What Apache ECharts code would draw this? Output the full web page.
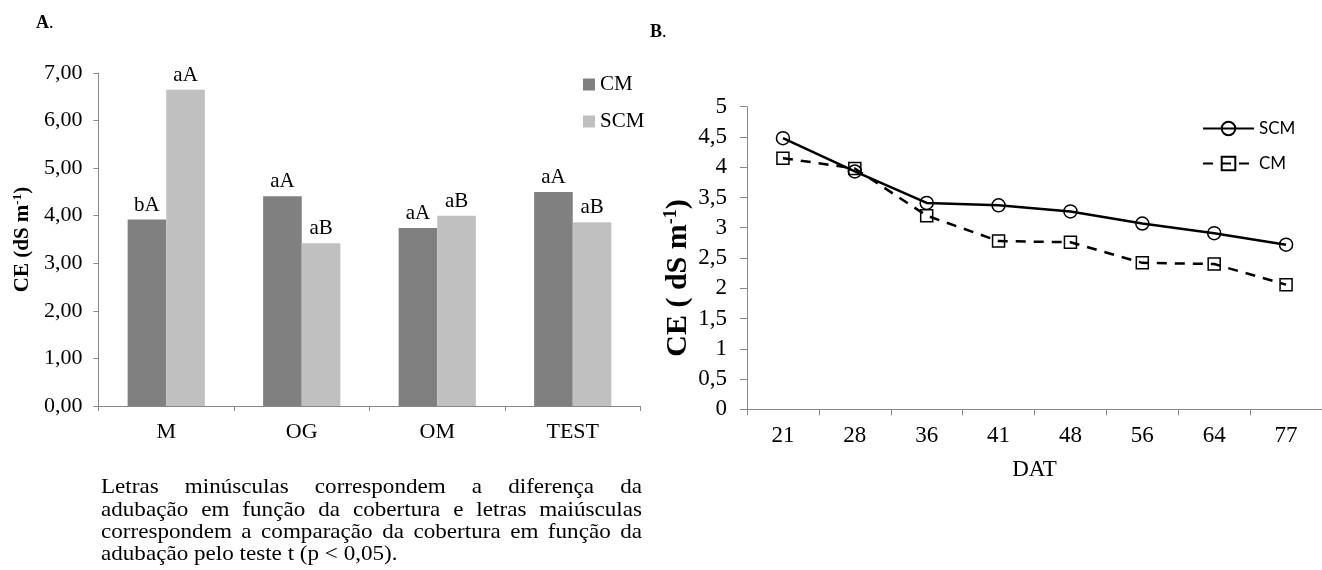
<!DOCTYPE html>
<html><head><meta charset="utf-8">
<script src="https://cdn.jsdelivr.net/npm/echarts@6/dist/echarts.min.js"></script>
<style>html,body{margin:0;padding:0;background:#fff}#c{width:1322px;height:570px}</style>
</head><body><div id="c"></div>
<script>
// ---- data ----
const barCategories = ['M', 'OG', 'OM', 'TEST'];
const barCM = [3.92, 4.41, 3.74, 4.50];
const barSCM = [6.65, 3.42, 4.00, 3.86];
const lettersCM = ['bA', 'aA', 'aA', 'aA'];
const lettersSCM = ['aA', 'aB', 'aB', 'aB'];

const datCategories = ['21', '28', '36', '41', '48', '56', '64', '77'];
const lineSCM = [4.48, 3.93, 3.41, 3.37, 3.27, 3.07, 2.91, 2.72];
const lineCM = [4.15, 3.98, 3.20, 2.78, 2.76, 2.42, 2.40, 2.06];

const captionLines = [
  'Letras minúsculas correspondem a diferença da',
  'adubação em função da cobertura e letras maiúsculas',
  'correspondem a comparação da cobertura em função da',
  'adubação pelo teste t (p < 0,05).'
];

// ---- layout / styles ----
const SERIF = '"Liberation Serif", "Times New Roman", serif';
const AXIS = '#888888';

const graphics = [];
graphics.push({type: 'text', x: 36, y: 23, style: {text: '{b|A}{n|.}', rich: {b: {fontSize: 18, fontWeight: 'bold', fontFamily: SERIF, fill: '#000'}, n: {fontSize: 18, fontFamily: SERIF, fill: '#000'}}, verticalAlign: 'middle', fill: '#000'}});
graphics.push({type: 'text', x: 650, y: 32, style: {text: '{b|B}{n|.}', rich: {b: {fontSize: 18, fontWeight: 'bold', fontFamily: SERIF, fill: '#000'}, n: {fontSize: 18, fontFamily: SERIF, fill: '#000'}}, verticalAlign: 'middle', fill: '#000'}});

// caption, justified like the original
const capFont = 21, capScale = 1.1, capLeft = 101, capRight = 642;
const capY = [487, 510, 532, 554];
const ctx = document.createElement('canvas').getContext('2d');
ctx.font = capFont + 'px "Liberation Serif"';
captionLines.forEach((line, i) => {
  const words = line.split(' ');
  const widths = words.map(w => ctx.measureText(w).width * capScale);
  const total = widths.reduce((a, b) => a + b, 0);
  const justify = i < captionLines.length - 1;
  const gap = justify ? (capRight - capLeft - total) / (words.length - 1) : ctx.measureText(' ').width * capScale;
  let x = capLeft;
  words.forEach((w, j) => {
    graphics.push({type: 'text', x: x, y: capY[i], scaleX: capScale,
      style: {text: w, fontSize: capFont, fontFamily: SERIF, fill: '#000', verticalAlign: 'middle'}});
    x += widths[j] + gap;
  });
});

const chart = echarts.init(document.getElementById('c'), null, {renderer: 'canvas'});
chart.setOption({
  animation: false,
  backgroundColor: '#fff',
  textStyle: {fontFamily: SERIF, color: '#000'},
  grid: [
    {left: 98.5, top: 73, width: 542, height: 333},
    {left: 747, top: 106.7, width: 577, height: 302.6}
  ],
  legend: [
    {data: ['CM', 'SCM'], left: 578, top: 69, orient: 'vertical', icon: 'rect',
     itemWidth: 12, itemHeight: 12, itemGap: 16,
     textStyle: {fontFamily: SERIF, fontSize: 21, color: '#000'}},
    {data: ['SCM-B', 'CM-B'], left: 1197, top: 115, orient: 'vertical',
     itemWidth: 51, itemHeight: 17, itemGap: 18,
     formatter: n => n.replace('-B', ''),
     textStyle: {fontFamily: 'Lato, "Liberation Sans", sans-serif', fontSize: 17, color: '#000'}}
  ],
  xAxis: [
    {type: 'category', gridIndex: 0, data: barCategories,
     axisLine: {lineStyle: {color: AXIS, width: 1}},
     axisTick: {show: true, length: 5, lineStyle: {color: AXIS}},
     axisLabel: {fontFamily: SERIF, fontSize: 22, color: '#000', margin: 15},
     splitLine: {show: false}},
    {type: 'category', gridIndex: 1, data: datCategories,
     name: 'DAT', nameLocation: 'middle', nameGap: 49,
     nameTextStyle: {fontFamily: SERIF, fontSize: 23, color: '#000'},
     axisLine: {lineStyle: {color: AXIS, width: 1}},
     axisTick: {show: true, length: 6, lineStyle: {color: AXIS}},
     axisLabel: {fontFamily: SERIF, fontSize: 23, color: '#000', margin: 15},
     splitLine: {show: false}}
  ],
  yAxis: [
    {type: 'value', gridIndex: 0, min: 0, max: 7, interval: 1,
     name: '{t|CE (dS m}{s|-1}{t|)}', nameLocation: 'middle', nameGap: 64,
     nameTextStyle: {rich: {
       t: {fontFamily: SERIF, fontSize: 21, fontWeight: 'bold', color: '#000', lineHeight: 23},
       s: {fontFamily: SERIF, fontSize: 13, fontWeight: 'bold', color: '#000', verticalAlign: 'top', lineHeight: 23}}},
     axisLine: {show: true, lineStyle: {color: AXIS, width: 1}},
     axisTick: {show: true, length: 5, lineStyle: {color: AXIS}},
     axisLabel: {fontFamily: SERIF, fontSize: 22, color: '#000', margin: 16,
       formatter: v => v.toFixed(2).replace('.', ',')},
     splitLine: {show: false}},
    {type: 'value', gridIndex: 1, min: 0, max: 5, interval: 0.5,
     name: '{t|CE ( dS m}{s|-1}{t|)}', nameLocation: 'middle', nameGap: 53,
     nameTextStyle: {padding: [0, 40, 0, 0], rich: {
       t: {fontFamily: SERIF, fontSize: 30, fontWeight: 'bold', color: '#000', lineHeight: 32},
       s: {fontFamily: SERIF, fontSize: 18, fontWeight: 'bold', color: '#000', verticalAlign: 'top', lineHeight: 32}}},
     axisLine: {show: true, lineStyle: {color: AXIS, width: 1}},
     axisTick: {show: true, length: 7, lineStyle: {color: AXIS}},
     axisLabel: {fontFamily: SERIF, fontSize: 23, color: '#000', margin: 20,
       formatter: v => String(v).replace('.', ',')},
     splitLine: {show: false}}
  ],
  series: [
    {name: 'CM', type: 'bar', xAxisIndex: 0, yAxisIndex: 0, data: barCM,
     barGap: '0%', barCategoryGap: '43%', itemStyle: {color: '#808080'},
     label: {show: true, position: 'top', distance: 4, fontFamily: SERIF, fontSize: 21, color: '#000',
       formatter: p => lettersCM[p.dataIndex]}},
    {name: 'SCM', type: 'bar', xAxisIndex: 0, yAxisIndex: 0, data: barSCM,
     barGap: '0%', barCategoryGap: '43%', itemStyle: {color: '#c0c0c0'},
     label: {show: true, position: 'top', distance: 4, fontFamily: SERIF, fontSize: 21, color: '#000',
       formatter: p => lettersSCM[p.dataIndex]}},
    {name: 'SCM-B', type: 'line', xAxisIndex: 1, yAxisIndex: 1, data: lineSCM,
     symbol: 'circle', symbolSize: 13, showAllSymbol: true,
     lineStyle: {color: '#000', width: 2.5},
     itemStyle: {color: 'rgba(255,255,255,0)', borderColor: '#000', borderWidth: 1.5}},
    {name: 'CM-B', type: 'line', xAxisIndex: 1, yAxisIndex: 1, data: lineCM,
     symbol: 'rect', symbolSize: 12, showAllSymbol: true,
     lineStyle: {color: '#000', width: 2.5, type: [10, 8]},
     itemStyle: {color: 'rgba(255,255,255,0)', borderColor: '#000', borderWidth: 1.5}}
  ],
  graphic: graphics
});
</script>
</body></html>
